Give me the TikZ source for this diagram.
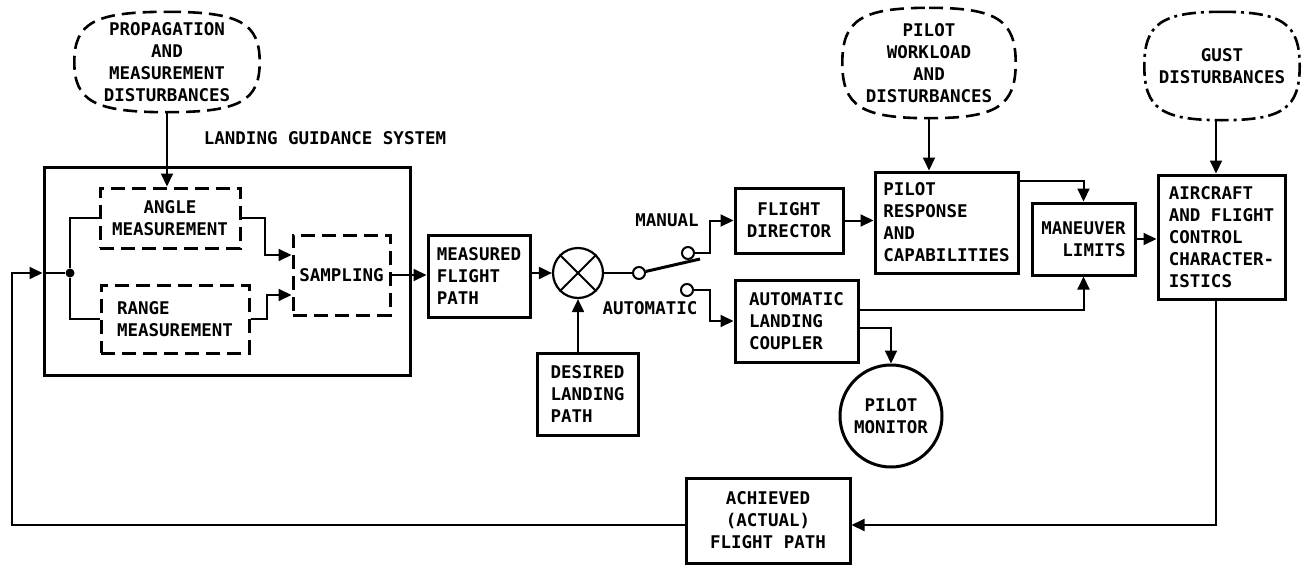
\documentclass[tikz,border=0pt]{standalone}
\usepackage{fontspec}
\setmonofont{DejaVu Sans Mono}
\usetikzlibrary{arrows.meta,calc}
\newcommand\sqovl[2][]{%
  \draw[#1] (#2.north)
    .. controls ($(#2.north)!0.78!(#2.north east)$) and ($(#2.east)!0.78!(#2.north east)$) .. (#2.east)
    .. controls ($(#2.east)!0.78!(#2.south east)$) and ($(#2.south)!0.78!(#2.south east)$) .. (#2.south)
    .. controls ($(#2.south)!0.78!(#2.south west)$) and ($(#2.west)!0.78!(#2.south west)$) .. (#2.west)
    .. controls ($(#2.west)!0.78!(#2.north west)$) and ($(#2.north)!0.78!(#2.north west)$) .. cycle;}
\begin{document}
\begin{tikzpicture}[x=1pt,y=-1pt,
  every node/.style={font=\ttfamily\bfseries\fontsize{17.5}{22}\selectfont},
  blk/.style={draw, line width=3pt, inner sep=0pt, align=center},
  lblk/.style={blk, align=left},
  dblk/.style={blk, dash pattern=on 14pt off 7pt},
  oval/.style={inner sep=0pt, align=center},
  ovalline/.style={line width=2.6pt, dash pattern=on 14pt off 7pt},
  con/.style={line width=2pt},
  arr/.style={con, -{Triangle[length=13pt,width=12pt]}},
  contact/.style={circle, draw, line width=2pt, fill=white, inner sep=0pt, minimum size=12pt}
]
\useasboundingbox (0,0) rectangle (1302,565);

% disturbance ovals
\node[oval, minimum width=185pt, minimum height=100pt] (prop) at (167,62)
  {PROPAGATION\\AND\\MEASUREMENT\\DISTURBANCES};
\node[oval, minimum width=173pt, minimum height=110pt] (pw) at (929,63)
  {PILOT\\WORKLOAD\\AND\\DISTURBANCES};
\node[oval, minimum width=155pt, minimum height=108pt] (gust) at (1222,66)
  {GUST\\DISTURBANCES};
\sqovl[ovalline]{prop}
\sqovl[ovalline]{pw}
\sqovl[line width=2.6pt, dash pattern=on 14pt off 5pt on 3pt off 5pt]{gust}

% landing guidance system
\node (lgslabel) at (325,138) {LANDING GUIDANCE SYSTEM};
\node[blk, minimum width=366pt, minimum height=208pt] (gbox) at (227,271) {};
\node[dblk, minimum width=140pt, minimum height=60pt] (angle) at (170,218) {ANGLE\\MEASUREMENT};
\node[dblk, align=left, minimum width=148pt, minimum height=68pt] (range) at (175,319) {RANGE\\MEASUREMENT};
\node[dblk, minimum width=97pt, minimum height=80pt] (samp) at (341.5,275) {SAMPLING};
\node[circle, fill, inner sep=0pt, minimum size=9pt] (j) at (70,273) {};

\node[lblk, minimum width=102pt, minimum height=82pt] (mfp) at (479,276) {MEASURED\\FLIGHT\\PATH};
\node[circle, draw, line width=2.2pt, minimum size=50pt, inner sep=0pt] (sum) at (578,273) {};
\draw[line width=2pt] (sum.north east) -- (sum.south west) (sum.north west) -- (sum.south east);
\node[lblk, minimum width=101pt, minimum height=82pt] (dlp) at (587.5,394) {DESIRED\\LANDING\\PATH};

% switch
\node[contact] (pv) at (639,273) {};
\node[contact] (mc) at (688,253) {};
\node[contact] (ac2) at (687,290) {};
\coordinate (bl) at (700,259);
\coordinate (sw1) at (710,253);
\coordinate (sw2) at (710,290);
\node (manual) at (667,220) {MANUAL};
\node (automatic) at (650,308) {AUTOMATIC};

\node[blk, minimum width=108pt, minimum height=65pt] (fd) at (789,220.5) {FLIGHT\\DIRECTOR};
\node[lblk, minimum width=123pt, minimum height=82pt] (alc) at (796.5,321) {AUTOMATIC\\LANDING\\COUPLER};
\node[circle, draw, line width=3pt, minimum size=102pt, inner sep=0pt, align=center] (pm) at (891,416) {PILOT\\MONITOR};

\node[lblk, minimum width=143pt, minimum height=101pt] (pr) at (946.5,222.5) {PILOT\\RESPONSE\\AND\\CAPABILITIES};
\node[blk, align=right, minimum width=103pt, minimum height=72pt] (ml) at (1083.5,239) {MANEUVER\\LIMITS};
\node[lblk, minimum width=127pt, minimum height=124pt] (acft) at (1221.5,237) {AIRCRAFT\\AND FLIGHT\\CONTROL\\CHARACTER-\\ISTICS};
\node[blk, minimum width=164pt, minimum height=85pt] (afp) at (768,520.5) {ACHIEVED\\(ACTUAL)\\FLIGHT PATH};

% feedback coordinates
\coordinate (fbr) at (1216,525);
\coordinate (fbl) at (12,525);
\coordinate (fb) at (12,273);

% connectors
\draw[arr] (prop.south) -- (prop.south |- angle.north);
\draw[arr] (afp.west |- fbr) -- (fbl) -- (fb) -- (fb -| gbox.west);
\draw[con] (fb -| gbox.west) -- (j);
\draw[con] (j) |- (angle.west);
\draw[con] (j) |- (range.west);
\draw[arr] (angle.east) -- ++(23,0) |- ([yshift=20pt]samp.west);
\draw[arr] (range.east) -- ++(16,0) |- ([yshift=-20pt]samp.west);
\draw[arr] (samp.east) -- (samp.east -| mfp.west);
\draw[arr] (mfp.east |- sum) -- (sum.west);
\draw[arr] (sum.south |- dlp.north) -- (sum.south);
\draw[con] (sum.east) -- (pv.west);
\draw[line width=3pt] (pv) -- (bl);
\draw[arr] (mc.east) -- (sw1) |- (fd.west);
\draw[arr] (ac2.east) -- (sw2) |- (alc.west);
\draw[arr] (fd.east) -- (fd.east -| pr.west);
\draw[arr] ([yshift=11pt]alc.east) -| (ml.south);
\draw[arr] ([yshift=-7pt]alc.east) -| (pm.north);
\draw[arr] (pw.south) -- (pw.south |- pr.north);
\draw[arr] ([yshift=-10pt]pr.north east) -| (ml.north);
\draw[arr] (ml.east) -- (ml.east -| acft.west);
\draw[arr] (gust.south -| fbr) -- (acft.north -| fbr);
\draw[arr] (acft.south -| fbr) -- (fbr) -- (fbr -| afp.east);
\end{tikzpicture}
\end{document}
